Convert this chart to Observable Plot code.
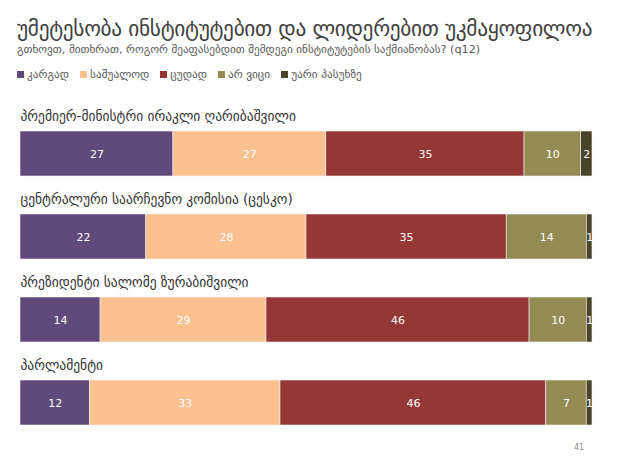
<!DOCTYPE html>
<html><head><meta charset="utf-8">
<script src="https://cdn.jsdelivr.net/npm/d3@7"></script>
<script src="https://cdn.jsdelivr.net/npm/@observablehq/plot@0.6"></script>
<style>
body{margin:0;width:625px;height:457px;background:#fff;font-family:"DejaVu Sans",sans-serif;position:relative;overflow:hidden}
#title{position:absolute;left:17px;top:16px;font-size:21.3px;color:#404040;white-space:nowrap;letter-spacing:-0.3px}
#sub{position:absolute;left:17px;top:43px;font-size:11.2px;color:#595959;white-space:nowrap}
#legend{position:absolute;left:17px;top:68px;font-size:11.3px;color:#595959;display:flex;gap:11px;white-space:nowrap}
#legend span.sw{display:inline-block;width:7px;height:7px;margin-right:3px;vertical-align:0px}
#chart{position:absolute;left:0;top:95px}
#page{position:absolute;left:574px;top:443px;font-size:8px;color:#888}
</style></head><body>
<div id="title"></div><div id="sub"></div><div id="legend"></div><div id="chart"></div><div id="page">41</div>
<script>
const title = "უმეტესობა ინსტიტუტებით და ლიდერებით უკმაყოფილოა";
const subtitle = "გთხოვთ, მითხრათ, როგორ შეაფასებდით  შემდეგი ინსტიტუტების საქმიანობას?  (q12)";
const categories = ["პრემიერ-მინისტრი ირაკლი ღარიბაშვილი", "ცენტრალური საარჩევნო კომისია (ცესკო)", "პრეზიდენტი სალომე ზურაბიშვილი", "პარლამენტი"];
const responses = ["კარგად", "საშუალოდ", "ცუდად", "არ ვიცი", "უარი პასუხზე"];
const colors = ["#604A7B", "#FAC090", "#953735", "#948A54", "#4A452A"];
const good = [27, 22, 14, 12];
const average = [27, 28, 29, 33];
const bad = [35, 35, 46, 46];
const dontKnow = [10, 14, 10, 7];
const refused = [2, 1, 1, 1];
const series = [good, average, bad, dontKnow, refused];

document.getElementById("title").textContent = title;
document.getElementById("sub").textContent = subtitle;
const lg = document.getElementById("legend");
responses.forEach((r, i) => {
  const d = document.createElement("div");
  d.innerHTML = `<span class="sw" style="background:${colors[i]}"></span>${r}`;
  lg.appendChild(d);
});

const data = [];
categories.forEach((c, ci) => responses.forEach((r, ri) => data.push({cat: c, resp: r, value: series[ri][ci]})));

const plot = Plot.plot({
  width: 625, height: 362,
  marginLeft: 20, marginRight: 33, marginTop: 8, marginBottom: 22,
  x: {domain: [0, 1], axis: null},
  y: {domain: categories, axis: null, padding: 0},
  color: {domain: responses, range: colors},
  style: {fontFamily: "DejaVu Sans, sans-serif"},
  marks: [
    Plot.barX(data, Plot.stackX({x: "value", y: "cat", fill: "resp", order: null, offset: "normalize", insetTop: 28, insetBottom: 10, stroke: "#f2f2f2", strokeWidth: 0.6})),
    Plot.text(data, Plot.stackX({x: "value", y: "cat", z: "resp", order: null, offset: "normalize", text: d => String(d.value), fill: "white", fontSize: 11, dy: 9})),
    Plot.text(categories, {x: () => 0, y: d => d, text: d => d, textAnchor: "start", dy: -28.5, fontSize: 13.5, fill: "#333"})
  ]
});
document.getElementById("chart").appendChild(plot);
</script>
</body></html>
